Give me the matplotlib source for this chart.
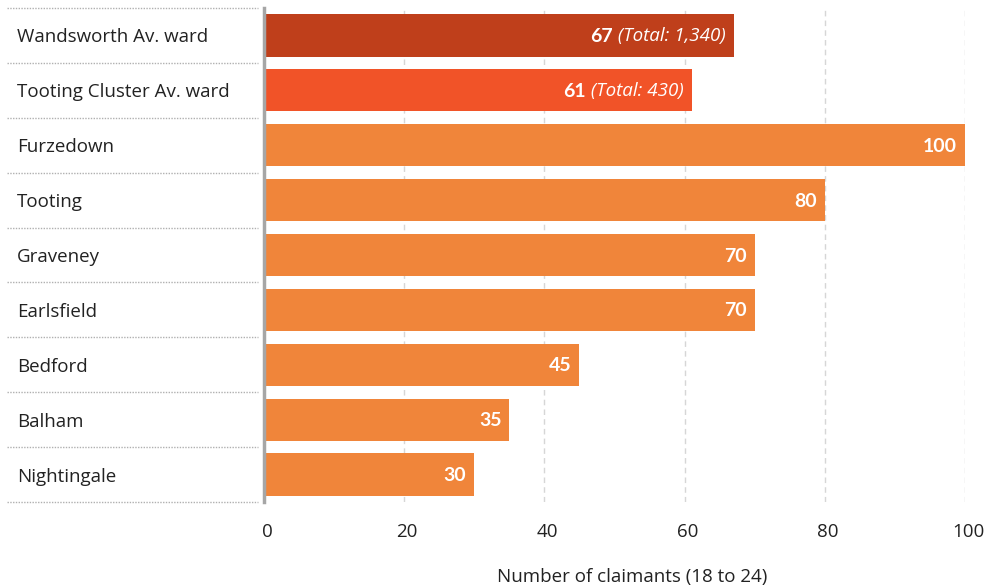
import matplotlib
matplotlib.use("Agg")
import matplotlib.pyplot as plt
from matplotlib.transforms import blended_transform_factory, offset_copy, ScaledTranslation

plt.rcParams['font.family'] = ['Open Sans', 'DejaVu Sans']

categories = ["Wandsworth Av. ward", "Tooting Cluster Av. ward", "Furzedown", "Tooting",
              "Graveney", "Earlsfield", "Bedford", "Balham", "Nightingale"]
values = [67, 61, 100, 80, 70, 70, 45, 35, 30]
totals = ["1,340", "430", None, None, None, None, None, None, None]
colors = ["#BF3F1B", "#F15328", "#F0853A", "#F0853A", "#F0853A", "#F0853A",
          "#F0853A", "#F0853A", "#F0853A"]
xticks = [0, 20, 40, 60, 80, 100]
xlabel = "Number of claimants (18 to 24)"

FS = 13.5
W, H = 984, 588
fig = plt.figure(figsize=(W / 100, H / 100), dpi=100)
x0, x1 = 264, 965
y0, y1 = 8, 502
ax = fig.add_axes([x0 / W, 1 - y1 / H, (x1 - x0) / W, (y1 - y0) / H])

n = len(categories)
ypos = list(range(n))
ax.barh(ypos, values, height=0.77, color=colors, zorder=3)
ax.set_xlim(0, 100)
ax.set_ylim(n - 0.5, -0.5)

for s in ["top", "right", "bottom"]:
    ax.spines[s].set_visible(False)
ax.spines["left"].set_color("#A6A6A6")
ax.spines["left"].set_linewidth(2.5)
ax.spines["left"].set_zorder(4)

ax.set_yticks([])
ax.set_xticks(xticks)
ax.set_xticklabels([str(t) for t in xticks], fontsize=FS, color="#222222")
ax.tick_params(axis="x", length=0, pad=15)
for lab in ax.get_xticklabels():
    lab.set_transform(lab.get_transform() + ScaledTranslation(3 / 100, 0, fig.dpi_scale_trans))
ax.xaxis.grid(True, linestyle=(0, (4, 3)), color="#D6D6D6", linewidth=1, zorder=0)

# left category labels and dotted separators
tr = blended_transform_factory(ax.transAxes, ax.transData)
span = x1 - x0
trl = offset_copy(tr, fig=fig, x=0, y=-2, units="dots")
for i, c in enumerate(categories):
    ax.text((17 - x0) / span, i, c, transform=trl, ha="left", va="center",
            fontsize=FS, color="#222222")
for b in [i - 0.5 for i in range(n + 1)]:
    ax.plot([(7 - x0) / span, (258 - x0) / span], [b, b], transform=tr, clip_on=False,
            color="#B0B0B0", linestyle=(0, (1, 1)), linewidth=1)

# value labels
fig.canvas.draw()
renderer = fig.canvas.get_renderer()
bold_kw = dict(family=["Lato", "DejaVu Sans"], fontweight="bold", fontsize=FS + 0.5)
for i, (v, t) in enumerate(zip(values, totals)):
    base = offset_copy(ax.transData, fig=fig, x=-8, y=-1, units="dots")
    if t is None:
        ax.text(v, i, str(v), transform=base, ha="right", va="center", color="white",
                zorder=5, **bold_kw)
    else:
        it = ax.text(v, i, " (Total: %s)" % t, transform=base, ha="right", va="center",
                     color="white", fontsize=FS, fontstyle="italic", zorder=5)
        ext = it.get_window_extent(renderer)
        bt = offset_copy(ax.transData, fig=fig, x=-8 - ext.width, y=-1, units="dots")
        ax.text(v, i, str(v), transform=bt, ha="right", va="center", color="white",
                zorder=5, **bold_kw)

fig.text(632 / W, 1 - 577 / H, xlabel, ha="center", va="center", fontsize=FS,
         color="#222222")

fig.savefig("out.png", dpi=100)
